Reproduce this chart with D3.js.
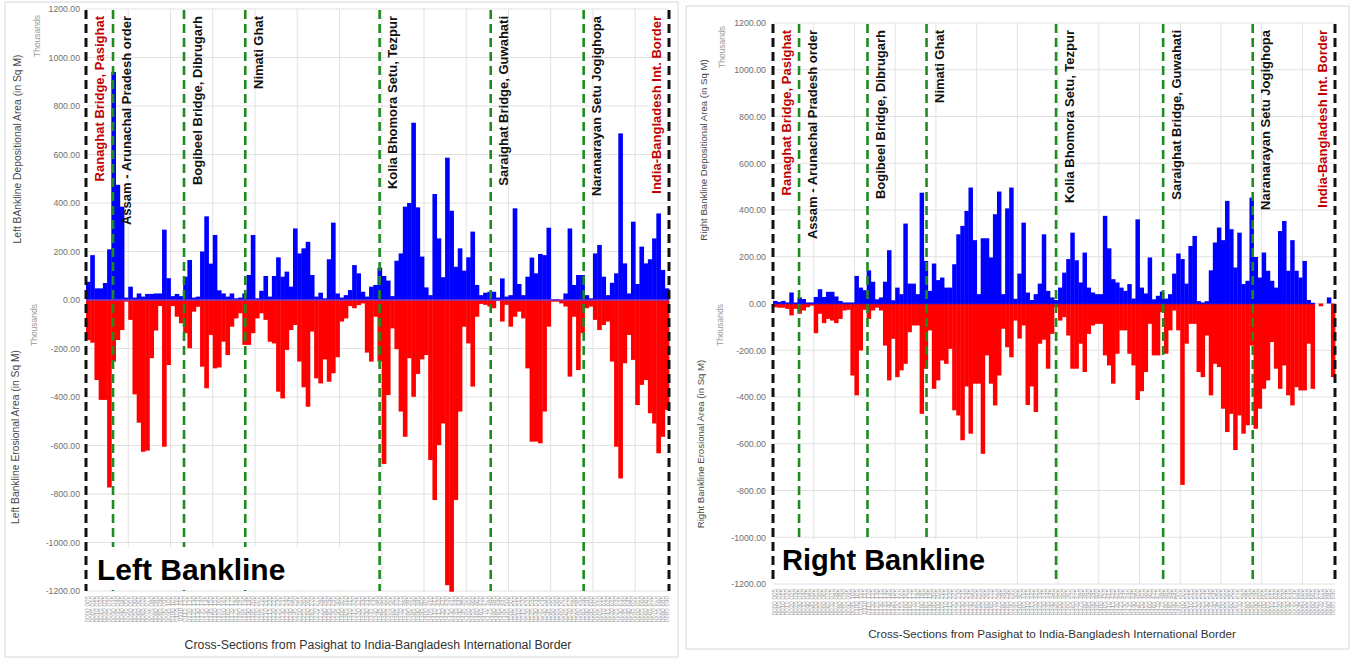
<!DOCTYPE html>
<html>
<head>
<meta charset="utf-8">
<script src="https://cdn.jsdelivr.net/npm/d3@7"></script>
<style>
body { margin:0; background:#fff; }
svg text { font-family: "Liberation Sans", Arial, sans-serif; }
</style>
</head>
<body>
<div id="chart"></div>
<script>
// cross-sections from Pasighat (one every 5)
const nSections = 138;
const sections = d3.range(nSections).map(i => String(i*5).padStart(4,"0") + " " + String(i*5+5).padStart(3,"0"));

// y ticks (thousands sq m)
const yTicks = [-1200,-1000,-800,-600,-400,-200,0,200,400,600,800,1000,1200];

// landmarks along the river, position in cross-section units
const landmarks = ["Ranaghat Bridge, Pasighat","Assam - Arunachal Pradesh order","Bogibeel Bridge, Dibrugarh","Nimati Ghat",
  "Kolia Bhomora Setu, Tezpur","Saraighat Bridge, Guwahati","Naranarayan Setu Jogighopa","India-Bangladesh Int. Border"];
const landmarkPos = [0, 6.4, 23.2, 37.7, 69.5, 95.8, 117.8, 138];
const landmarkEnd = [true, false, false, false, false, false, false, true];

// Left bankline, thousands sq m
const leftDep = [75,185,48,48,70,209,940,475,385,10, 55,10,27,14,25,25,27,27,290,90,
  16,25,16,96,165,10,14,200,345,150, 268,40,27,14,27,7,10,27,103,268,
  7,38,99,14,99,176,96,117,55,295, 192,213,240,103,14,30,7,168,319,27,
  10,20,41,144,110,34,14,55,62,133, 99,80,16,162,192,385,400,731,382,179,
  52,20,437,254,94,587,368,137,213,121, 176,282,62,20,30,34,34,10,89,14,
  20,378,66,20,96,175,110,190,185,298, 3,4,0,27,295,62,103,103,20,7,
  192,227,96,20,71,110,687,151,27,323, 66,220,151,168,254,357,124,48];
const leftEro = [-165,-176,-330,-412,-412,-773,-254,-165,-124,-7, -82,-389,-506,-626,-621,-240,-126,-25,-605,-268,
  -25,-69,-96,-137,-199,-48,-28,-275,-364,-144, -282,-278,-172,-227,-110,-76,-55,-185,-185,-137,
  -76,-55,-82,-172,-179,-378,-406,-206,-124,-103, -254,-360,-440,-130,-323,-344,-245,-337,-302,-236,
  -89,-76,-25,-34,-21,-14,-217,-254,-69,-254, -676,-392,-117,-203,-460,-564,-240,-399,-305,-245,
  -227,-660,-825,-598,-509,-1176,-1203,-825,-460,-110, -179,-357,-69,-16,-20,-27,-34,-3,-89,-20,
  -110,-69,-48,-76,-282,-584,-584,-591,-460,-110, -7,-7,-14,-27,-316,-69,-289,-137,-34,-27,
  -82,-124,-103,-89,-254,-605,-736,-261,-144,-247, -433,-350,-330,-467,-509,-632,-564,-453];

// Right bankline, thousands sq m
const rightDep = [11,7,11,4,47,4,26,19,4,4, 28,61,28,50,50,30,11,4,4,4,
  118,68,57,142,93,18,26,93,228,14, 68,40,342,85,85,40,474,182,54,171,
  100,111,68,68,168,296,332,396,496,271, 40,279,279,197,382,479,40,407,496,20,
  128,346,47,15,40,85,296,54,26,15, 68,132,190,303,185,90,218,68,47,40,
  40,375,236,104,90,68,54,83,21,360, 68,43,197,18,33,51,21,40,128,214,
  190,85,246,289,10,4,10,142,261,325, 271,439,318,154,303,83,97,453,199,111,
  218,140,97,68,310,353,140,271,140,111, 182,15,0,0,0,0,26,0];
const rightEro = [-16,-18,-18,-23,-51,-23,-44,-30,-16,-9, -127,-44,-84,-66,-73,-84,-66,-30,-27,-308,
  -393,-201,-27,-66,-30,-18,-30,-180,-329,-151, -315,-286,-258,-123,-94,-94,-472,-279,-115,-365,
  -329,-244,-258,-194,-457,-479,-585,-355,-557,-343, -343,-643,-222,-343,-436,-308,-108,-187,-230,-73,
  -150,-94,-434,-355,-464,-172,-155,-279,-130,-16, -73,-58,-137,-279,-279,-172,-293,-130,-94,-87,
  -87,-222,-265,-343,-215,-115,-115,-215,-265,-413, -375,-293,-87,-222,-222,-37,-215,-115,-30,-115,
  -776,-172,-87,-87,-293,-315,-137,-393,-258,-272, -450,-550,-472,-627,-479,-557,-521,-180,-536,-450,
  -365,-329,-165,-279,-365,-265,-393,-436,-358,-372, -372,-172,-365,0,-12,0,0,-315];

const svg = d3.select("#chart").append("svg").attr("width",1353).attr("height",660);

function drawPanel(p) {
  const g = svg.append("g");

  // panel frame
  g.append("rect").attr("x",p.frame[0]).attr("y",p.frame[1]).attr("width",p.frame[2]).attr("height",p.frame[3])
    .attr("fill","#fff").attr("stroke","#d8d8d8");

  const x = d3.scaleBand().domain(sections).range([p.x0,p.x1]).padding(0);
  const xPos = d3.scaleLinear().domain([0,nSections]).range([p.x0,p.x1]);
  const y = d3.scaleLinear().domain([-1200,1200]).range([p.yBot,p.yTop]);

  // grid
  g.append("g").selectAll("line").data(yTicks).join("line")
    .attr("x1",p.x0).attr("x2",p.x1).attr("y1",d=>y(d)).attr("y2",d=>y(d))
    .attr("stroke","#e2e2e2");
  g.append("g").selectAll("line").data(d3.range(10,nSections,10)).join("line")
    .attr("x1",d=>xPos(d)).attr("x2",d=>xPos(d)).attr("y1",p.yTop).attr("y2",p.yBot)
    .attr("stroke","#e2e2e2");

  // Y axis
  const yAxis = g.append("g").attr("transform",`translate(${p.tickX},0)`)
    .call(d3.axisLeft(y).tickValues(yTicks).tickFormat(d=>d.toFixed(2)).tickSize(0).tickPadding(0));
  yAxis.select(".domain").remove();
  yAxis.selectAll("text").attr("fill","#707070").style("font-size",p.tickFont+"px");

  // X axis (rotated cross-section labels)
  const xAxis = g.append("g").attr("transform",`translate(0,${p.yBot})`)
    .call(d3.axisBottom(x).tickSize(0));
  xAxis.select(".domain").remove();
  xAxis.selectAll("text").attr("transform","rotate(-90)").attr("text-anchor","end")
    .attr("x",-5).attr("y",0).attr("dy","0.35em")
    .attr("fill","#a8a8a8").style("font-size","6.3px");

  // bars
  g.append("g").selectAll("rect").data(p.dep).join("rect")
    .attr("x",(d,i)=>x(sections[i])).attr("width",x.bandwidth()+0.4)
    .attr("y",d=>y(d)).attr("height",d=>y(0)-y(d)).attr("fill","#0000ff");
  g.append("g").selectAll("rect").data(p.ero).join("rect")
    .attr("x",(d,i)=>x(sections[i])).attr("width",x.bandwidth()+0.4)
    .attr("y",y(0)).attr("height",d=>y(d)-y(0)).attr("fill","#ff0000");

  // zero line
  g.append("line").attr("x1",p.x0).attr("x2",p.zeroEnd).attr("y1",y(0)).attr("y2",y(0))
    .attr("stroke",p.zeroColor).attr("stroke-width",1.5);

  // green landmark lines
  g.append("g").selectAll("line").data(landmarkPos.filter((d,i)=>!landmarkEnd[i])).join("line")
    .attr("x1",d=>xPos(d)).attr("x2",d=>xPos(d)).attr("y1",p.yTop+1).attr("y2",p.yBot)
    .attr("stroke","#1e8c1e").attr("stroke-width",2.6).attr("stroke-dasharray","9,5");

  // white box behind the panel name
  g.append("rect").attr("x",p.box[0]).attr("y",p.box[1]).attr("width",p.box[2]).attr("height",p.box[3]).attr("fill","#fff");

  // black end lines
  g.append("g").selectAll("line").data(landmarkPos.filter((d,i)=>landmarkEnd[i])).join("line")
    .attr("x1",d=>xPos(d)).attr("x2",d=>xPos(d)).attr("y1",p.yTop+1).attr("y2",p.yBot)
    .attr("stroke","#111").attr("stroke-width",3).attr("stroke-dasharray","9,5");

  // landmark labels
  g.append("g").selectAll("text").data(landmarks).join("text")
    .attr("transform",(d,i)=>`translate(${xPos(landmarkPos[i]) + (i==landmarks.length-1 ? -13 : 13)},${p.yTop+7}) rotate(-90)`)
    .attr("text-anchor","end").attr("dy","0.35em")
    .attr("fill",(d,i)=>landmarkEnd[i] ? "#c00000" : "#111")
    .style("font-size","13px").style("font-weight","bold")
    .text(d=>d);

  // axis titles
  const t = (tx,ty,txt,size,col,rot) => g.append("text")
    .attr("transform",`translate(${tx},${ty})` + (rot ? " rotate(-90)" : ""))
    .attr("text-anchor","middle").attr("dy","0.35em")
    .attr("fill",col).style("font-size",size+"px").text(txt);
  t(p.depTitle[0],p.depTitle[1],p.depTitle[2],p.titleFont,"#4a4a4a",true);
  t(p.eroTitle[0],p.eroTitle[1],p.eroTitle[2],p.titleFont,"#4a4a4a",true);
  t(p.thou[0],p.thou[1],"Thousands",8.5,"#9a9a9a",true);
  t(p.thou[2],p.thou[3],"Thousands",8.5,"#9a9a9a",true);
  t(p.xTitle[0],p.xTitle[1],"Cross-Sections from Pasighat to India-Bangladesh International Border",p.xTitle[2],"#333",false);

  // panel name
  g.append("text").attr("x",p.big[0]).attr("y",p.big[1]).attr("fill","#000")
    .style("font-size",p.big[2]+"px").style("font-weight","bold").text(p.big[3]);
}

drawPanel({
  frame:[5,2,673,655], x0:86, x1:669, yTop:9, yBot:591, tickX:80, tickFont:8.7,
  dep:leftDep, ero:leftEro, zeroEnd:669, zeroColor:"#7a3fd0",
  box:[88,547,287,43],
  depTitle:[17,149,"Left BAnkline Depositional Area (in Sq M)"],
  eroTitle:[15,437,"Left Bankline Erosional Area (in Sq M)"], titleFont:10.3,
  thou:[37,36,34,325],
  xTitle:[378,645,12.3],
  big:[97,580,30,"Left Bankline"]
});

drawPanel({
  frame:[686,6,663,643], x0:773, x1:1335, yTop:23, yBot:584, tickX:766, tickFont:8.8,
  dep:rightDep, ero:rightEro, zeroEnd:1315, zeroColor:"#1010e8",
  box:[775,540,230,43],
  depTitle:[704,150,"Right Bankline Depositional Area (in Sq M)"],
  eroTitle:[701,444,"Right Bankline Erosional Area (in Sq M)"], titleFont:9.6,
  thou:[722,47,720,325],
  xTitle:[1052,634,11.7],
  big:[782,570,29,"Right Bankline"]
});
</script>
</body>
</html>
